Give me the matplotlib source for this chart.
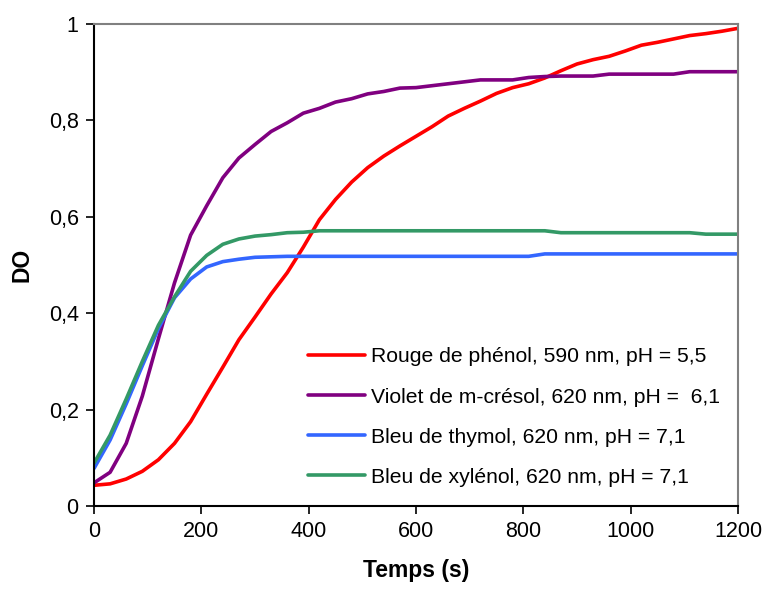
import numpy as np
import matplotlib
matplotlib.use("Agg")
import matplotlib.pyplot as plt
from matplotlib.ticker import FuncFormatter

plt.rcParams['font.family'] = ['Liberation Sans', 'DejaVu Sans']

# temps (s), un point toutes les 30 s
temps = np.arange(0, 1201, 30)

rouge = [0.043, 0.046, 0.056, 0.072, 0.096, 0.130, 0.175, 0.232, 0.288, 0.345,
         0.392, 0.440, 0.484, 0.537, 0.594, 0.636, 0.672, 0.702, 0.726, 0.747,
         0.767, 0.787, 0.809, 0.825, 0.840, 0.856, 0.868, 0.876, 0.888, 0.903,
         0.917, 0.926, 0.933, 0.944, 0.956, 0.962, 0.969, 0.976, 0.980, 0.985,
         0.991]

violet = [0.048, 0.070, 0.130, 0.228, 0.347, 0.463, 0.562, 0.623, 0.681, 0.722,
          0.750, 0.777, 0.795, 0.815, 0.825, 0.838, 0.845, 0.855, 0.860, 0.867,
          0.868, 0.872, 0.876, 0.880, 0.884, 0.884, 0.884, 0.889, 0.891, 0.892,
          0.892, 0.892, 0.896, 0.896, 0.896, 0.896, 0.896, 0.901, 0.901, 0.901,
          0.901]

thymol = [0.078, 0.137, 0.212, 0.291, 0.368, 0.432, 0.471, 0.496, 0.507, 0.512,
          0.516, 0.517, 0.518, 0.518, 0.518, 0.518, 0.518, 0.518, 0.518, 0.518,
          0.518, 0.518, 0.518, 0.518, 0.518, 0.518, 0.518, 0.518, 0.523, 0.523,
          0.523, 0.523, 0.523, 0.523, 0.523, 0.523, 0.523, 0.523, 0.523, 0.523,
          0.523]

xylenol = [0.089, 0.147, 0.222, 0.300, 0.375, 0.434, 0.487, 0.520, 0.543, 0.554,
           0.560, 0.563, 0.567, 0.568, 0.571, 0.571, 0.571, 0.571, 0.571, 0.571,
           0.571, 0.571, 0.571, 0.571, 0.571, 0.571, 0.571, 0.571, 0.571, 0.567,
           0.567, 0.567, 0.567, 0.567, 0.567, 0.567, 0.567, 0.567, 0.564, 0.564,
           0.564]

noms = ["Rouge de phénol, 590 nm, pH = 5,5",
        "Violet de m-crésol, 620 nm, pH =  6,1",
        "Bleu de thymol, 620 nm, pH = 7,1",
        "Bleu de xylénol, 620 nm, pH = 7,1"]
couleurs = ["#FF0000", "#800080", "#3366FF", "#339966"]

fig = plt.figure(figsize=(7.65, 5.91), dpi=100)
ax = fig.add_axes([0.1229, 0.1438, 0.8418, 0.8156])

for y, nom, c in zip([rouge, violet, thymol, xylenol], noms, couleurs):
    ax.plot(temps, y, color=c, lw=2.6, label=nom, solid_capstyle='round')

ax.set_xlim(0, 1200)
ax.set_ylim(0, 1)
ax.set_xticks(np.arange(0, 1201, 200))
ax.set_yticks(np.arange(0, 1.01, 0.2))
ax.yaxis.set_major_formatter(FuncFormatter(lambda v, p: ("%g" % round(v, 1)).replace(".", ",")))
ax.tick_params(direction='out', length=6, width=1.2, labelsize=15.5, pad=5)

for s in ['left', 'bottom']:
    ax.spines[s].set_linewidth(1.5)
    ax.spines[s].set_color('black')
for s in ['top', 'right']:
    ax.spines[s].set_linewidth(1.5)
    ax.spines[s].set_color('#808080')

ax.set_xlabel("Temps (s)", fontsize=16.5, fontweight='bold', labelpad=12)
ax.set_ylabel("DO", fontsize=16.5, fontweight='bold', labelpad=11)

ax.legend(loc='upper left', bbox_to_anchor=(0.332, 0.329), frameon=False,
          borderpad=0, borderaxespad=0,
          fontsize=15.2, handlelength=2.7, handletextpad=0.3, labelspacing=1.0)

fig.savefig("out.png", dpi=100)
